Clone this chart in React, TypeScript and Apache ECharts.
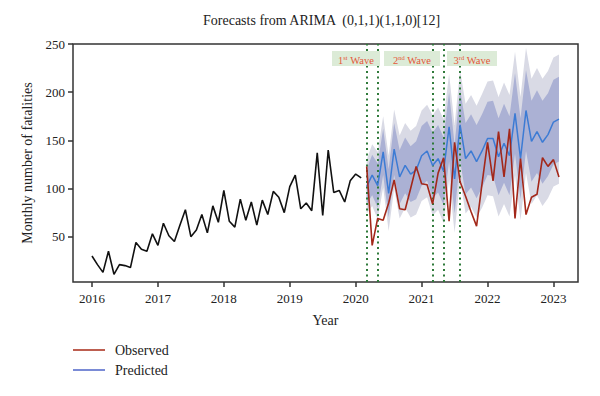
import React, { useEffect, useRef } from "react";
import * as echarts from "echarts";

// ---- data ----
const yearTicks = [2016, 2017, 2018, 2019, 2020, 2021, 2022, 2023];
const valueTicks = [50, 100, 150, 200, 250];

// Monthly observed fatalities, Jan 2016 .. Feb 2020 (training period)
const observedHistory = [
  30, 21, 13, 35, 11, 21, 20, 18, 44, 37, 35, 53,
  41, 64, 51, 45, 62, 78, 50, 57, 73, 54, 82, 65,
  98, 66, 60, 89, 67, 86, 62, 88, 73, 97, 91, 75,
  102, 114, 79, 85, 77, 137, 72, 140, 96, 98, 86, 108,
  115, 111,
];
// Observed, Mar 2020 .. Feb 2023
const observedTest = [
  123, 41, 69, 67, 85, 109, 79, 78, 100, 123,
  105, 104, 84, 116, 132, 66, 148, 107, 92, 76, 61, 105,
  148, 108, 159, 112, 162, 69, 131, 73, 91, 94, 132, 123,
  130, 112,
];
// Predicted, Mar 2020 .. Feb 2023
const predicted = [
  102, 114, 103, 138, 95, 141, 112, 124, 115, 119,
  134, 139, 124, 131, 118, 164, 110, 166, 131, 139, 128, 139,
  152, 152, 133, 147, 134, 178, 131, 181, 149, 159, 148, 156,
  169, 172,
];
// Half widths of the prediction intervals (95% outer, 80% inner)
const halfWidth95 = [
  28, 32, 35, 37, 39, 41, 43, 44, 45, 46,
  47, 48, 52, 53, 54, 55, 56, 57, 57, 58, 58, 59,
  59, 60, 62, 63, 63, 64, 64, 65, 65, 66, 66, 66,
  67, 67,
];
const halfWidth80 = [
  18, 21, 23, 24, 25, 27, 28, 29, 29, 30,
  31, 31, 34, 35, 35, 36, 36, 37, 37, 38, 38, 38,
  38, 39, 40, 41, 41, 42, 42, 42, 42, 43, 43, 43,
  44, 44,
];
// Wave boundary months (decimal years)
const waveLines = [2020 + 2 / 12, 2020 + 4 / 12, 2021 + 2 / 12, 2021 + 4 / 12, 2021 + 7 / 12];
const waveLabels = [
  { num: "1", sup: "st" },
  { num: "2", sup: "nd" },
  { num: "3", sup: "rd" },
];

const FONT = "'Liberation Serif', 'DejaVu Serif', serif";

export default function App() {
  const ref = useRef<HTMLDivElement>(null);

  useEffect(() => {
    if (!ref.current) return;
    document.body.style.margin = "0";
    const chart = echarts.init(ref.current, null, { renderer: "svg" });

    const histX = observedHistory.map((_, i) => 2016 + i / 12);
    const fcX = predicted.map((_, i) => 2016 + (observedHistory.length + i) / 12);
    const up95 = predicted.map((p, i) => p + halfWidth95[i]);
    const lo95 = predicted.map((p, i) => p - halfWidth95[i]);
    const up80 = predicted.map((p, i) => p + halfWidth80[i]);
    const lo80 = predicted.map((p, i) => p - halfWidth80[i]);

    const band = (lo: number[], hi: number[], color: string, z: number) => ({
      type: "custom",
      silent: true,
      z,
      clip: true,
      data: fcX.map((x, i) => [x, lo[i], hi[i]]),
      encode: { x: 0, y: [1, 2] },
      renderItem: (params: any, api: any) => {
        if (params.dataIndex !== 0) return null;
        const pts: number[][] = [];
        for (let i = 0; i < fcX.length; i++) pts.push(api.coord([fcX[i], hi[i]]));
        for (let i = fcX.length - 1; i >= 0; i--) pts.push(api.coord([fcX[i], lo[i]]));
        return { type: "polygon", shape: { points: pts }, style: { fill: color } };
      },
    });

    const boxes = [
      { x: 332, w: 48 },
      { x: 384, w: 56 },
      { x: 447, w: 50 },
    ];
    const boxY = 51;
    const boxH = 15;

    const graphics: any[] = [
      {
        type: "text",
        left: 203,
        top: 13,
        style: {
          text: "Forecasts from ARIMA  (0,1,1)(1,1,0)[12]",
          font: `14px ${FONT}`,
          fill: "#222",
        },
      },
      { type: "line", shape: { x1: 73, y1: 350, x2: 105, y2: 350 }, style: { stroke: "#ad3524", lineWidth: 1.6 } },
      { type: "line", shape: { x1: 73, y1: 370, x2: 105, y2: 370 }, style: { stroke: "#6b7ed2", lineWidth: 1.8 } },
      { type: "text", x: 115, y: 350, style: { text: "Observed", font: `14px ${FONT}`, fill: "#222", verticalAlign: "middle" } },
      { type: "text", x: 115, y: 370, style: { text: "Predicted", font: `14px ${FONT}`, fill: "#222", verticalAlign: "middle" } },
    ];
    boxes.forEach((b, i) => {
      graphics.push({
        type: "rect",
        z: 100,
        shape: { x: b.x, y: boxY, width: b.w, height: boxH },
        style: { fill: "#dcebd7" },
      });
      graphics.push({
        type: "text",
        z: 101,
        x: b.x + b.w / 2,
        y: boxY + boxH / 2 + 1,
        style: {
          text: `{n|${waveLabels[i].num}}{s|${waveLabels[i].sup}}{n| Wave}`,
          align: "center",
          verticalAlign: "middle",
          rich: {
            n: { font: `10.5px ${FONT}`, fill: "#e4583a", lineHeight: 12, verticalAlign: "bottom" },
            s: { font: `6.5px ${FONT}`, fill: "#e4583a", lineHeight: 12, verticalAlign: "top" },
          },
        },
      });
    });

    chart.setOption({
      animation: false,
      backgroundColor: "#fff",
      grid: {
        left: 73,
        right: 22,
        top: 44,
        bottom: 114,
        show: true,
        borderColor: "#333",
        borderWidth: 1.5,
        containLabel: false,
      },
      xAxis: {
        type: "value",
        min: 2015.712,
        max: 2023.372,
        name: "Year",
        nameLocation: "middle",
        nameGap: 31,
        nameTextStyle: { fontFamily: FONT, fontSize: 14, color: "#222" },
        axisLine: { show: false },
        splitLine: { show: false },
        axisTick: { show: true, length: 5, customValues: yearTicks, lineStyle: { color: "#333", width: 1.5 } },
        axisLabel: {
          customValues: yearTicks,
          fontFamily: FONT,
          fontSize: 13,
          color: "#222",
          margin: 10,
          formatter: (v: number) => String(Math.round(v)),
        },
      },
      yAxis: {
        type: "value",
        min: 3,
        max: 250,
        name: "Monthly number of fatalities",
        nameLocation: "middle",
        nameGap: 35,
        nameRotate: 90,
        nameTextStyle: { fontFamily: FONT, fontSize: 14, color: "#222" },
        axisLine: { show: false },
        splitLine: { show: false },
        axisTick: { show: true, length: 5, customValues: valueTicks, lineStyle: { color: "#333", width: 1.5 } },
        axisLabel: {
          customValues: valueTicks,
          fontFamily: FONT,
          fontSize: 13,
          color: "#222",
          margin: 8,
        },
      },
      series: [
        band(lo95, up95, "#d9dae5", 1),
        band(lo80, up80, "#abb1d4", 2),
        {
          type: "line",
          name: "History",
          data: histX.map((x, i) => [x, observedHistory[i]]),
          showSymbol: false,
          symbol: "none",
          lineStyle: { color: "#111", width: 1.6 },
          z: 5,
        },
        {
          type: "line",
          name: "Predicted",
          data: fcX.map((x, i) => [x, predicted[i]]),
          symbol: "none",
          lineStyle: { color: "#3c7bd4", width: 1.5 },
          z: 6,
        },
        {
          type: "line",
          name: "Observed",
          data: fcX.map((x, i) => [x, observedTest[i]]),
          symbol: "none",
          lineStyle: { color: "#a3281a", width: 1.6 },
          z: 7,
          markLine: {
            silent: true,
            symbol: ["none", "none"],
            label: { show: false },
            lineStyle: { color: "#2f7a3a", type: [2, 3.5], width: 2 },
            data: waveLines.map((x) => ({ xAxis: x })),
          },
        },
      ],
      graphic: graphics,
    });

    return () => chart.dispose();
  }, []);

  return <div ref={ref} style={{ width: 600, height: 396 }} />;
}
